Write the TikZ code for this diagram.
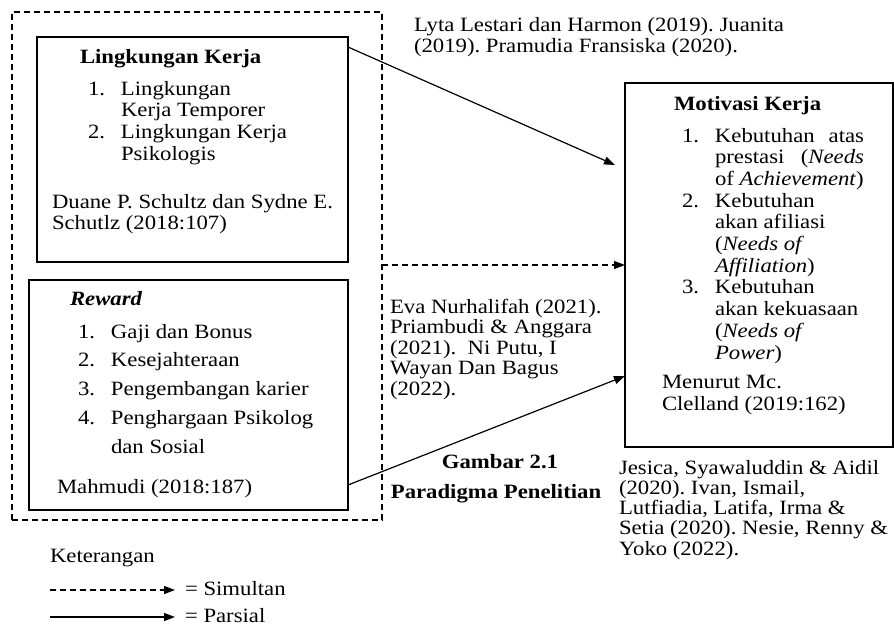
\documentclass[tikz,border=0pt]{standalone}
\usepackage{fontspec}
\setmainfont{Liberation Serif}[FakeStretch=1.12]
\usetikzlibrary{arrows.meta}
\frenchspacing
\newcommand\itm[2]{\hbox{\hbox to 33pt{#1\hfil}#2}}
\newcommand\ind[1]{\hbox{\hskip33pt #1}}
\newcommand\blk[2]{\vtop{\baselineskip=#1\lineskiplimit=-50pt\lineskip=0pt\relax #2}}
\begin{document}
\begin{tikzpicture}[x=1pt,y=-1pt,
  every node/.style={inner sep=0pt,outer sep=0pt,font=\fontsize{20.3}{21.5}\selectfont\frenchspacing},
  box/.style={draw,line width=1.1pt,anchor=north west},
  dbox/.style={draw,line width=1.1pt,anchor=north west,dash pattern=on 6pt off 4pt},
  txt/.style={anchor=base west},
  ctxt/.style={anchor=base},
  tip/.style={-{Triangle[length=11pt,width=8pt]}},
  parsial/.style={tip,line width=1.2pt},
  simultan/.style={tip,line width=1.2pt,dash pattern=on 6pt off 4pt}]
\useasboundingbox (0,0) rectangle (894,627);
\fill[white] (0,0) rectangle (894,627);
% boxes
\node[dbox,minimum width=370pt,minimum height=508pt] (outer) at (12,12) {};
\node[box,minimum width=311pt,minimum height=225pt] (lk) at (37,37) {};
\node[box,minimum width=319pt,minimum height=230pt] (rw) at (29,280) {};
\node[box,minimum width=268pt,minimum height=364pt] (mot) at (625,83) {};
% Lingkungan Kerja
\node[txt] (lkt) at (80,63) {\textbf{Lingkungan Kerja}};
\node[txt] (lkl) at (88,95) {\blk{21.7pt}{\itm{1.}{Lingkungan}\ind{Kerja Temporer}\itm{2.}{Lingkungan Kerja}\ind{Psikologis}}};
\node[txt] (lks) at (52,208) {\blk{21pt}{\hbox{Duane P. Schultz dan Sydne E.}\hbox{Schutlz (2018:107)}}};
% Reward
\node[txt] (rwt) at (70,305) {\textbf{\textit{Reward}}};
\node[txt] (rwl) at (78,338) {\blk{28.8pt}{\itm{1.}{Gaji dan Bonus}\itm{2.}{Kesejahteraan}\itm{3.}{Pengembangan karier}\itm{4.}{Penghargaan Psikolog}\ind{dan Sosial}}};
\node[txt] (rws) at (57,493) {Mahmudi (2018:187)};
% Motivasi
\node[txt] (mott) at (674,110) {\textbf{Motivasi Kerja}};
\node[txt] (motl) at (682,142) {\blk{21.7pt}{%
\itm{1.}{\hbox to 149pt{Kebutuhan\hfill atas}}%
\ind{\hbox to 149pt{prestasi\hfill (\textit{Needs}}}%
\ind{of \textit{Achievement})}%
\itm{2.}{Kebutuhan}%
\ind{akan afiliasi}%
\ind{(\textit{Needs of}}%
\ind{\textit{Affiliation})}%
\itm{3.}{Kebutuhan}%
\ind{akan kekuasaan}%
\ind{(\textit{Needs of}}%
\ind{\textit{Power})}}};
\node[txt] (mots) at (662,388) {\blk{22pt}{\hbox{Menurut Mc.}\hbox{Clelland (2019:162)}}};
% references
\node[txt] (ref1) at (414,31) {\blk{21pt}{\hbox{Lyta Lestari dan Harmon (2019). Juanita}\hbox{(2019). Pramudia Fransiska (2020).}}};
\node[txt] (ref2) at (390,313) {\blk{20.5pt}{\hbox{Eva Nurhalifah (2021).}\hbox{Priambudi \& Anggara}\hbox{(2021).\ \ Ni Putu, I}\hbox{Wayan Dan Bagus}\hbox{(2022).}}};
\node[txt] (ref3) at (619,474) {\blk{20.3pt}{\hbox{Jesica, Syawaluddin \& Aidil}\hbox{(2020). Ivan, Ismail,}\hbox{Lutfiadia, Latifa, Irma \&}\hbox{Setia (2020). Nesie, Renny \&}\hbox{Yoko (2022).}}};
% caption
\node[ctxt] (cap1) at (500,468) {\textbf{Gambar 2.1}};
\node[ctxt] (cap2) at (496,498) {\textbf{Paradigma Penelitian}};
% connectors
\coordinate (e1) at (615,165);
\draw[parsial] ([yshift=-10pt]lk.north east) -- (e1);
\draw[simultan] (outer.east |- mot.west) -- (mot.west);
\draw[parsial] ([yshift=25pt]rw.south east) -- ([yshift=-111pt]mot.west);
% legend
\node[txt] (ket) at (50,562) {Keterangan};
\coordinate (s1) at (50,590);
\coordinate (s2) at (175,590);
\node[txt] (sim) at (185,595) {= Simultan};
\draw[simultan] (s1) -- (s2);
\coordinate (p1) at (50,617);
\coordinate (p2) at (175,617);
\node[txt] (par) at (185,622) {= Parsial};
\draw[parsial] (p1) -- (p2);
\end{tikzpicture}
\end{document}
